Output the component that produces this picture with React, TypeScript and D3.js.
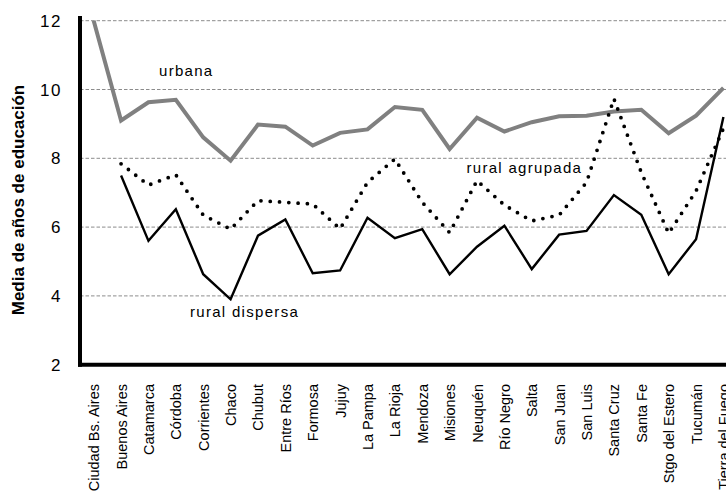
import React from 'react';
import * as d3 from 'd3';

const provinces = [
  'Ciudad Bs. Aires', 'Buenos Aires', 'Catamarca', 'Córdoba', 'Corrientes', 'Chaco',
  'Chubut', 'Entre Ríos', 'Formosa', 'Jujuy', 'La Pampa', 'La Rioja', 'Mendoza',
  'Misiones', 'Neuquén', 'Río Negro', 'Salta', 'San Juan', 'San Luis', 'Santa Cruz',
  'Santa Fe', 'Stgo del Estero', 'Tucumán', 'Tierra del Fuego',
];

const urbana = [12.0, 9.1, 9.63, 9.7, 8.61, 7.93, 8.98, 8.92, 8.37, 8.74, 8.84, 9.49,
  9.41, 8.27, 9.18, 8.78, 9.05, 9.22, 9.24, 9.36, 9.41, 8.73, 9.24, 10.05];

const ruralAgrupada = [null, 7.84, 7.22, 7.52, 6.35, 5.94, 6.77, 6.72, 6.67, 5.95, 7.3, 7.98,
  6.72, 5.84, 7.35, 6.64, 6.18, 6.35, 7.3, 9.73, 7.59, 5.82, 7.05, 8.87];

const ruralDispersa = [null, 7.5, 5.6, 6.52, 4.63, 3.9, 5.75, 6.22, 4.66, 4.74, 6.27, 5.68,
  5.94, 4.63, 5.43, 6.04, 4.78, 5.78, 5.89, 6.93, 6.36, 4.63, 5.65, 9.2];

const yTicks = [2, 4, 6, 8, 10, 12];

const font = '"Liberation Sans", Arial, sans-serif';

export default function App() {
  const width = 726;
  const height = 493;
  const left = 80;
  const bottom = 364.7;
  const top = 20.7;

  const x = d3.scaleBand<string>()
    .domain(provinces)
    .range([left, left + provinces.length * 27.38])
    .padding(0);
  const cx = (i: number) => (x(provinces[i]) as number) + x.bandwidth() / 2;

  const y = d3.scaleLinear().domain([2, 12]).range([bottom, top]);

  const line = d3.line<number | null>()
    .defined(d => d != null)
    .x((_, i) => cx(i))
    .y(d => y(d as number));

  return (
    <div style={{ position: 'absolute', left: 0, top: 0 }}>
      <svg width={width} height={height} style={{ display: 'block', background: '#fff' }} fontFamily={font}>
        {/* grid */}
        {yTicks.filter(t => t > 2).map(t => (
          <line key={t} x1={left} x2={width} y1={y(t)} y2={y(t)}
            stroke="#8c8c8c" strokeWidth={1} strokeDasharray="3.5 2" />
        ))}

        {/* y tick labels */}
        {yTicks.map(t => (
          <text key={t} x={62} y={y(t)} dy="0.36em" textAnchor="end" fontSize={17}
            letterSpacing={1.5} fill="#000">{t}</text>
        ))}

        {/* y title */}
        <text transform={`translate(24, ${(82 + 318) / 2}) rotate(-90)`} textAnchor="middle"
          fontSize={17} fontWeight="bold" fill="#000">Media de años de educación</text>

        {/* x labels */}
        {provinces.map((p, i) => (
          <text key={p} transform={`translate(${cx(i) + 5.5}, 384) rotate(-90)`} textAnchor="end"
            fontSize={14.5} fill="#000">{p}</text>
        ))}

        {/* series */}
        <path d={line(urbana) || ''} fill="none" stroke="#808080" strokeWidth={4} strokeLinejoin="miter" />
        <path d={line(ruralAgrupada) || ''} fill="none" stroke="#000" strokeWidth={3.8}
          strokeLinecap="round" strokeDasharray="0 9.3" />
        <path d={line(ruralDispersa) || ''} fill="none" stroke="#000" strokeWidth={2.4} />

        {/* series labels */}
        <text x={159} y={75.5} fontSize={15} letterSpacing={1.3} fill="#000">urbana</text>
        <text x={466.5} y={173.3} fontSize={15} letterSpacing={1.3} fill="#000">rural agrupada</text>
        <text x={190} y={317} fontSize={15} letterSpacing={1.3} fill="#000">rural dispersa</text>

        {/* axes */}
        <line x1={left} x2={left} y1={16} y2={bottom + 2} stroke="#000" strokeWidth={4} />
        <line x1={left - 2} x2={width} y1={bottom} y2={bottom} stroke="#000" strokeWidth={4} />
      </svg>
    </div>
  );
}
